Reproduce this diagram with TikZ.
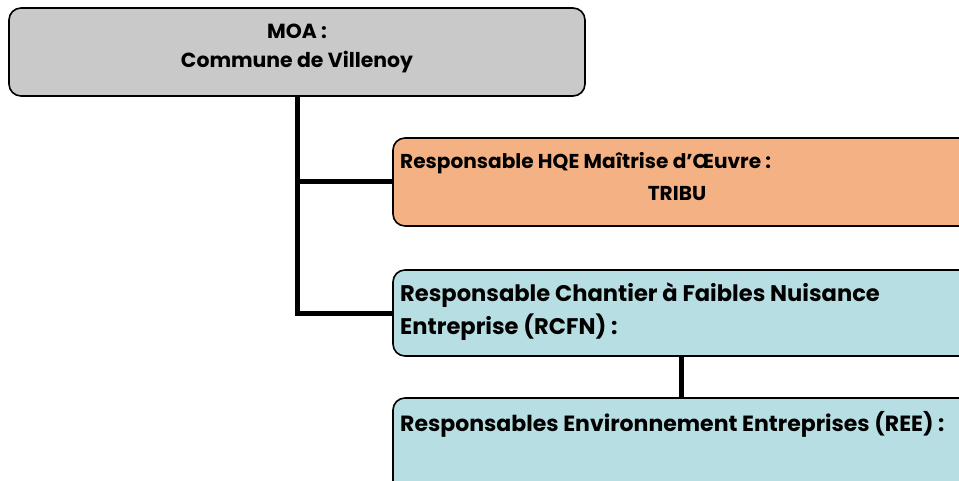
\documentclass[tikz,border=0pt]{standalone}
\usepackage{fontspec}
\setmainfont{Poppins}
\definecolor{moagray}{HTML}{C9C9C9}
\definecolor{hqeorange}{HTML}{F4B183}
\definecolor{rcfnblue}{HTML}{B7DEE3}
\begin{document}
\begin{tikzpicture}[x=1pt,y=-1pt,
  box/.style={draw=black, line width=1.6pt, rounded corners=12pt, inner sep=0pt},
  conn/.style={draw=black, line width=5pt},
  lbl/.style={inner sep=0pt, text=black}]
\useasboundingbox (0,0) rectangle (959,481);
\clip (0,0) rectangle (959,481);
% boxes
\node[box, fill=moagray, minimum width=576pt, minimum height=88pt] (moa) at (297,52) {};
\node[box, fill=hqeorange, minimum width=580pt, minimum height=88pt] (hqe) at (683,182) {};
\node[box, fill=rcfnblue, minimum width=580pt, minimum height=86pt] (rcfn) at (683,313) {};
\node[box, fill=rcfnblue, minimum width=580pt, minimum height=100pt] (ree) at (683,448) {};
% connectors
\coordinate (rcfnlink) at (681,356);
\draw[conn] (moa.south) |- (hqe.west);
\draw[conn] (moa.south) |- (rcfn.west);
\draw[conn] (rcfnlink) -- (rcfnlink |- ree.north);
% texts
\node[lbl, font=\bfseries\fontsize{20.4}{24}\selectfont] (moat1) at (297,31) {MOA :};
\node[lbl, font=\bfseries\fontsize{20.4}{24}\selectfont] (moat2) at (297,62) {Commune de Villenoy};
\node[lbl, anchor=west, font=\bfseries\fontsize{20.1}{24}\selectfont] (hqet1) at (400,163) {Responsable HQE Maîtrise d’Œuvre :};
\node[lbl, font=\bfseries\fontsize{20.1}{24}\selectfont] (hqet2) at (677,194) {TRIBU};
\node[lbl, anchor=west, font=\bfseries\fontsize{22.6}{26}\selectfont] (rcfnt1) at (400,295) {Responsable Chantier à Faibles Nuisance};
\node[lbl, anchor=west, font=\bfseries\fontsize{22.6}{26}\selectfont] (rcfnt2) at (400,327) {Entreprise (RCFN) :};
\node[lbl, anchor=west, font=\bfseries\fontsize{22}{26}\selectfont] (reet1) at (400,424) {Responsables Environnement Entreprises (REE) :};
\end{tikzpicture}
\end{document}
